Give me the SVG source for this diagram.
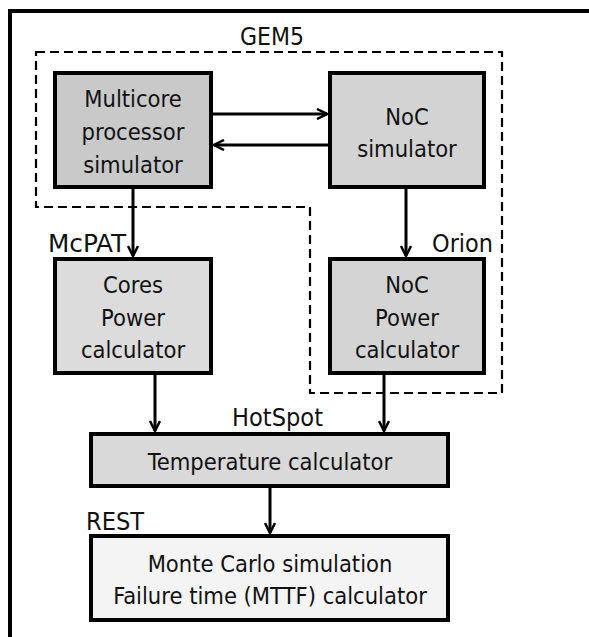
<svg xmlns="http://www.w3.org/2000/svg" width="589" height="637" viewBox="0 0 589 637">
<style>
text{font-family:"DejaVu Sans Condensed","DejaVu Sans","Liberation Sans",sans-serif;font-stretch:condensed;font-size:23.5px;fill:#111}
.c{text-anchor:middle}
.lb{font-size:25px}
.box{stroke:#000;stroke-width:4}
.ln{stroke:#000;stroke-width:3;fill:none}
.dash{stroke:#000;stroke-width:2.2;fill:none;stroke-dasharray:9 5}
</style>
<defs>
<marker id="ah" viewBox="0 0 12 12" refX="11" refY="6" markerWidth="12" markerHeight="12" markerUnits="userSpaceOnUse" orient="auto">
<path d="M1,1 L11,6 L1,11" fill="none" stroke="#000" stroke-width="2.5"/>
</marker>
</defs>
<rect width="589" height="637" fill="#fff"/>
<g id="frame">
<path d="M10,637 V11 H589" fill="none" stroke="#000" stroke-width="4"/>
</g>
<g id="gem5">
<path class="dash" d="M36,52 H502 V393 H310 V207 H36 Z"/>
<text class="lb" x="240" y="45" textLength="64" lengthAdjust="spacingAndGlyphs">GEM5</text>
</g>
<g id="multicore">
<rect class="box" x="55" y="73" width="156" height="114" fill="#c9c9c9"/>
<text class="c" x="133" y="107">Multicore</text>
<text class="c" x="133" y="140">processor</text>
<text class="c" x="133" y="173">simulator</text>
</g>
<g id="nocsim">
<rect class="box" x="330" y="73" width="154" height="114" fill="#d3d3d3"/>
<text class="c" x="407" y="125">NoC</text>
<text class="c" x="407" y="157">simulator</text>
</g>
<g id="cores">
<rect class="box" x="55" y="259" width="156" height="114" fill="#dcdcdc"/>
<text class="c" x="133" y="293">Cores</text>
<text class="c" x="133" y="326">Power</text>
<text class="c" x="133" y="358">calculator</text>
<text class="lb" x="48" y="252" textLength="78" lengthAdjust="spacingAndGlyphs">McPAT</text>
</g>
<g id="nocpower">
<rect class="box" x="330" y="259" width="154" height="114" fill="#d4d4d4"/>
<text class="c" x="407" y="293">NoC</text>
<text class="c" x="407" y="326">Power</text>
<text class="c" x="407" y="358">calculator</text>
<text class="lb" x="432" y="252" textLength="61" lengthAdjust="spacingAndGlyphs">Orion</text>
</g>
<g id="temp">
<rect class="box" x="91" y="434" width="357" height="52" fill="#d9d9d9"/>
<text class="c" x="270" y="470">Temperature calculator</text>
<text class="lb" x="232" y="426" textLength="91" lengthAdjust="spacingAndGlyphs">HotSpot</text>
</g>
<g id="mttf">
<rect class="box" x="91" y="536" width="357" height="84" fill="#f4f4f4"/>
<text class="c" x="270" y="572">Monte Carlo simulation</text>
<text class="c" x="270" y="604">Failure time (MTTF) calculator</text>
<text class="lb" x="86" y="530" textLength="58" lengthAdjust="spacingAndGlyphs">REST</text>
</g>
<g id="connectors">
<line class="ln" x1="213" y1="114" x2="327" y2="114" marker-end="url(#ah)"/>
<line class="ln" x1="328" y1="145" x2="214" y2="145" marker-end="url(#ah)"/>
<line class="ln" x1="133" y1="189" x2="133" y2="256" marker-end="url(#ah)"/>
<line class="ln" x1="406" y1="189" x2="406" y2="256" marker-end="url(#ah)"/>
<line class="ln" x1="155" y1="375" x2="155" y2="431" marker-end="url(#ah)"/>
<line class="ln" x1="384" y1="375" x2="384" y2="431" marker-end="url(#ah)"/>
<line class="ln" x1="270" y1="488" x2="270" y2="533" marker-end="url(#ah)"/>
</g>
</svg>
